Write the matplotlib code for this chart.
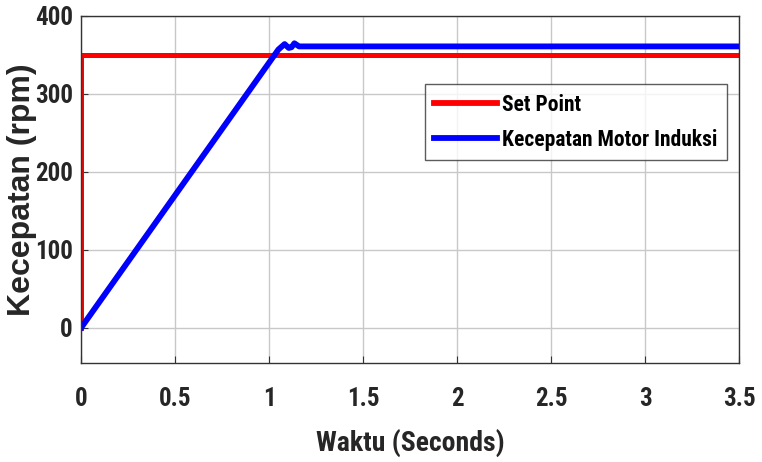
import matplotlib
matplotlib.use("Agg")
import matplotlib.pyplot as plt

# ---------------------------------------------------------
# Data
# ---------------------------------------------------------
sp_time = [0.0, 0.0, 3.5]
sp_speed = [0, 350, 350]

motor_time = [0.0, 1.05, 1.083, 1.105, 1.12, 1.135, 1.16, 3.5]
motor_speed = [0, 357, 364, 359, 360, 365, 361, 361]

x_ticks = [0, 0.5, 1, 1.5, 2, 2.5, 3, 3.5]
x_labels = ["0", "0.5", "1", "1.5", "2", "2.5", "3", "3.5"]
y_ticks = [0, 100, 200, 300, 400]

# ---------------------------------------------------------
# Fonts (narrow if available)
# ---------------------------------------------------------
narrow = ["Roboto Condensed", "Liberation Sans Narrow", "Liberation Sans", "DejaVu Sans"]
plt.rcParams["font.family"] = narrow
plt.rcParams["font.weight"] = "bold"

# ---------------------------------------------------------
# Plot
# ---------------------------------------------------------
fig = plt.figure(figsize=(7.62, 4.62), dpi=100)
ax = fig.add_axes([81 / 762, 1 - 363 / 462, 658 / 762, 347 / 462])

ax.plot(sp_time, sp_speed, color="red", linewidth=3.6, label="Set Point")
ax.plot(motor_time, motor_speed, color="blue", linewidth=4.2, label="Kecepatan Motor Induksi")

ax.set_xlim(0, 3.5)
ax.set_ylim(-45, 400)
ax.set_xticks(x_ticks)
ax.set_xticklabels(x_labels)
ax.set_yticks(y_ticks)
ax.tick_params(direction="in", labelsize=18, length=5, color="#333333")
ax.tick_params(axis="x", pad=17)
ax.tick_params(axis="y", pad=6)
for lbl in ax.get_xticklabels() + ax.get_yticklabels():
    lbl.set_fontweight("bold")
    lbl.set_color("#262626")

ax.grid(True, color="#c8c8c8", linewidth=1.0)
for s in ax.spines.values():
    s.set_color("#333333")
    s.set_linewidth(1.0)

ax.set_xlabel("Waktu (Seconds)", fontsize=20, fontweight="bold", color="#262626", labelpad=13)
ax.set_ylabel("Kecepatan (rpm)", fontsize=23, fontweight="bold", color="#262626",
              family=["Liberation Sans", "DejaVu Sans"])
ax.yaxis.set_label_coords(-0.067, 0.5)

leg = ax.legend(loc="upper right", bbox_to_anchor=(0.982, 0.804), fontsize=15.5,
                frameon=True, fancybox=False, edgecolor="#333333", handlelength=2.9,
                borderpad=0.45, labelspacing=0.6, handletextpad=0.25, borderaxespad=0)
leg.get_frame().set_linewidth(1.0)
for t in leg.get_texts():
    t.set_fontweight("bold")
for h in leg.get_lines():
    h.set_linewidth(4.2)

fig.savefig("out.png", dpi=100)
